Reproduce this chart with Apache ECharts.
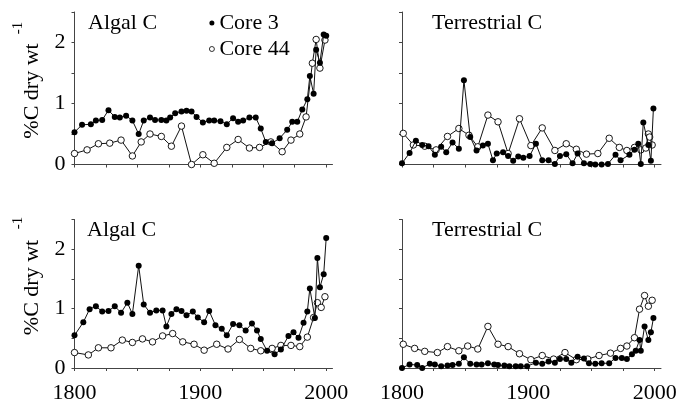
<!DOCTYPE html>
<html>
<head>
<meta charset="utf-8">
<script src="https://cdn.jsdelivr.net/npm/echarts@6/dist/echarts.min.js"></script>
<style>
  html, body { margin: 0; padding: 0; background: #fff; }
  #chart { width: 684px; height: 404px; }
</style>
</head>
<body>
<div id="chart"></div>
<script>
// Sediment carbon profiles, [year, %C dry wt^-1]
const algalCore3Top = [[1800,0.53],[1806,0.65],[1813,0.66],[1817,0.72],[1822,0.73],[1827,0.89],[1832,0.78],[1836,0.77],[1841,0.80],[1846,0.72],[1851,0.50],[1855,0.72],[1860,0.77],[1864,0.73],[1869,0.73],[1873,0.72],[1876,0.77],[1880,0.84],[1885,0.87],[1889,0.88],[1893,0.87],[1897,0.78],[1902,0.69],[1907,0.72],[1911,0.72],[1916,0.71],[1921,0.66],[1926,0.76],[1930,0.70],[1934,0.72],[1939,0.77],[1944,0.77],[1948,0.59],[1952,0.37],[1957,0.35],[1963,0.43],[1969,0.57],[1973,0.70],[1977,0.70],[1981,0.90],[1985,1.07],[1987,1.45],[1990,1.16],[1992,1.88],[1995,1.67],[1998,2.13],[2000,2.11]];
const algalCore44Top = [[1800,0.18],[1810,0.24],[1819,0.34],[1828,0.35],[1837,0.40],[1846,0.14],[1853,0.37],[1860,0.50],[1869,0.46],[1877,0.30],[1885,0.63],[1893,0.00],[1902,0.16],[1911,0.02],[1921,0.28],[1930,0.41],[1939,0.27],[1947,0.28],[1956,0.37],[1965,0.21],[1972,0.40],[1979,0.50],[1984,0.78],[1989,1.66],[1992,2.05],[1995,1.58],[1999,2.04]];
const terrCore3Top = [[1800,0.02],[1806,0.19],[1811,0.39],[1816,0.32],[1821,0.30],[1826,0.16],[1831,0.29],[1835,0.20],[1840,0.36],[1845,0.26],[1849,1.38],[1854,0.45],[1859,0.23],[1864,0.31],[1868,0.34],[1872,0.07],[1875,0.18],[1880,0.20],[1884,0.14],[1888,0.06],[1892,0.13],[1896,0.11],[1901,0.14],[1906,0.34],[1911,0.07],[1916,0.07],[1921,0.01],[1925,0.14],[1930,0.17],[1935,0.02],[1939,0.18],[1944,0.02],[1949,0.01],[1953,0.00],[1958,0.00],[1963,0.01],[1969,0.16],[1973,0.07],[1980,0.16],[1984,0.24],[1987,0.34],[1989,0.01],[1991,0.69],[1995,0.32],[1997,0.06],[1999,0.92]];
const terrCore44Top = [[1801,0.51],[1809,0.32],[1818,0.30],[1827,0.24],[1836,0.46],[1845,0.59],[1853,0.48],[1860,0.29],[1868,0.81],[1876,0.70],[1884,0.18],[1893,0.75],[1902,0.31],[1911,0.60],[1921,0.23],[1930,0.34],[1938,0.25],[1946,0.17],[1955,0.18],[1964,0.43],[1972,0.28],[1978,0.23],[1984,0.28],[1989,0.24],[1993,0.27],[1995,0.50],[1996,0.45],[1998,0.32]];
const algalCore3Bottom = [[1800,0.55],[1807,0.77],[1812,0.99],[1817,1.04],[1822,0.95],[1827,0.96],[1832,1.04],[1837,0.93],[1842,1.10],[1846,0.91],[1851,1.72],[1855,1.07],[1860,0.93],[1865,0.97],[1870,0.97],[1873,0.70],[1877,0.91],[1881,0.99],[1885,0.96],[1889,0.89],[1894,0.95],[1898,0.85],[1903,0.77],[1907,0.96],[1912,0.72],[1917,0.66],[1921,0.55],[1926,0.74],[1931,0.72],[1936,0.63],[1941,0.75],[1945,0.63],[1948,0.49],[1953,0.29],[1959,0.23],[1964,0.31],[1970,0.54],[1974,0.60],[1978,0.51],[1982,0.76],[1985,0.95],[1987,1.34],[1991,0.84],[1993,1.85],[1995,1.36],[1998,1.58],[2000,2.19]];
const algalCore44Bottom = [[1800,0.26],[1811,0.22],[1819,0.34],[1829,0.34],[1838,0.47],[1846,0.43],[1854,0.49],[1862,0.44],[1870,0.54],[1878,0.58],[1886,0.44],[1895,0.40],[1903,0.30],[1913,0.40],[1922,0.32],[1931,0.48],[1940,0.33],[1948,0.29],[1957,0.33],[1964,0.38],[1972,0.38],[1979,0.36],[1985,0.52],[1990,0.85],[1993,1.10],[1996,1.02],[1999,1.20]];
const terrCore3Bottom = [[1800,0.00],[1806,0.06],[1812,0.05],[1816,0.00],[1822,0.07],[1826,0.06],[1831,0.03],[1836,0.04],[1840,0.05],[1845,0.07],[1849,0.18],[1854,0.07],[1859,0.06],[1863,0.06],[1868,0.08],[1873,0.06],[1876,0.05],[1881,0.04],[1885,0.03],[1890,0.03],[1894,0.03],[1899,0.03],[1906,0.09],[1911,0.07],[1916,0.11],[1921,0.09],[1925,0.15],[1930,0.15],[1934,0.09],[1939,0.19],[1944,0.16],[1948,0.08],[1953,0.07],[1958,0.08],[1964,0.08],[1969,0.17],[1974,0.17],[1978,0.15],[1982,0.23],[1985,0.29],[1988,0.47],[1989,0.29],[1992,0.70],[1995,0.47],[1997,0.60],[1999,0.84]];
const terrCore44Bottom = [[1801,0.40],[1810,0.33],[1818,0.28],[1828,0.26],[1836,0.36],[1845,0.29],[1852,0.37],[1860,0.32],[1868,0.70],[1876,0.40],[1884,0.36],[1893,0.24],[1902,0.14],[1911,0.21],[1920,0.15],[1929,0.26],[1938,0.14],[1947,0.15],[1956,0.21],[1965,0.25],[1973,0.33],[1978,0.37],[1984,0.51],[1988,0.99],[1992,1.22],[1995,1.04],[1998,1.14]];

const panelTitles = ['Algal C', 'Terrestrial C', 'Algal C', 'Terrestrial C'];
const yearTicks = [1800, 1825, 1850, 1875, 1900, 1925, 1950, 1975, 2000];
const yearLabels = [1800, 1900, 2000];
const valueLabels = [0, 1, 2];
const seriesNames = ['Core 3', 'Core 44'];

const FONT = '"Liberation Serif", "Times New Roman", serif';
const INK = '#000';
const AXIS = '#444';

const chart = echarts.init(document.getElementById('chart'), null, { renderer: 'canvas' });

const grids = [
  { left: 74.5, top: 12, width: 258, height: 152.5 },
  { left: 402, top: 12, width: 259, height: 152.5 },
  { left: 74.5, top: 219.5, width: 258, height: 152.5 },
  { left: 402, top: 219.5, width: 259, height: 152.5 }
];

const xAxes = grids.map((g, i) => ({
  type: 'value', gridIndex: i, min: 1800, max: 2005,
  axisLine: { show: true, lineStyle: { color: AXIS, width: 1 } },
  axisTick: { show: true, length: 3, lineStyle: { color: AXIS }, customValues: yearTicks },
  axisLabel: {
    show: i >= 2, customValues: yearLabels, margin: 14,
    formatter: v => String(v),
    fontFamily: FONT, fontSize: 22, color: INK
  },
  splitLine: { show: false }
}));

const yAxes = grids.map((g, i) => ({
  type: 'value', gridIndex: i, min: 0, max: 2.5, interval: 0.5,
  axisLine: { show: true, lineStyle: { color: AXIS, width: 1 } },
  axisTick: { show: true, length: 3, lineStyle: { color: AXIS } },
  axisLabel: {
    show: i % 2 === 0, customValues: valueLabels, margin: 9,
    formatter: v => String(v),
    fontFamily: FONT, fontSize: 22, color: INK
  },
  splitLine: { show: false }
}));

// Core 3: solid dots; Core 44: hollow dots with a thin outline
function lineSeries(name, data, idx, filled) {
  return {
    name, type: 'line', data, xAxisIndex: idx, yAxisIndex: idx,
    symbol: 'circle',
    symbolSize: filled ? 6 : 6.5,
    color: '#000',
    lineStyle: { color: '#111', width: 1 },
    itemStyle: filled
      ? { color: '#000', borderWidth: 0 }
      : { color: '#fff', borderColor: '#000', borderWidth: 0.9 },
    z: filled ? 3 : 2,
    silent: true
  };
}

const panels = [
  [algalCore3Top, algalCore44Top],
  [terrCore3Top, terrCore44Top],
  [algalCore3Bottom, algalCore44Bottom],
  [terrCore3Bottom, terrCore44Bottom]
];

const series = [];
panels.forEach((p, i) => {
  series.push(lineSeries(seriesNames[1], p[1], i, false));
  series.push(lineSeries(seriesNames[0], p[0], i, true));
});

const titlePos = [
  { left: 88, top: 12 }, { left: 432, top: 12 },
  { left: 87, top: 219 }, { left: 432, top: 219 }
];
const titles = panelTitles.map((t, i) => ({
  text: t, left: titlePos[i].left, top: titlePos[i].top, padding: 0,
  textStyle: { fontFamily: FONT, fontSize: 22, fontWeight: 'normal', color: INK }
}));

// rotated y-axis caption with superscript exponent
function yCaption(cy, supY) {
  return [
    { type: 'text', x: 32, y: cy, rotation: Math.PI / 2,
      style: { text: '%C dry wt', fontFamily: FONT, fontSize: 22, fill: INK, align: 'center', verticalAlign: 'middle' } },
    { type: 'text', x: 18, y: supY, rotation: Math.PI / 2,
      style: { text: '-1', fontFamily: FONT, fontSize: 15, fill: INK, align: 'center', verticalAlign: 'middle' } }
  ];
}

chart.setOption({
  animation: false,
  backgroundColor: '#fff',
  title: titles,
  legend: {
    orient: 'vertical', left: 209, top: 12, padding: 0,
    itemWidth: 5, itemHeight: 5, itemGap: 4,
    selectedMode: false,
    textStyle: { fontFamily: FONT, fontSize: 22, color: INK },
    data: [
      { name: 'Core 3', icon: 'circle', itemStyle: { color: '#000', borderWidth: 0 } },
      { name: 'Core 44', icon: 'circle', itemStyle: { color: '#fff', borderColor: '#000', borderWidth: 0.8 } }
    ]
  },
  grid: grids,
  xAxis: xAxes,
  yAxis: yAxes,
  series,
  graphic: [].concat(yCaption(91, 28), yCaption(287.5, 223))
});
</script>
</body>
</html>
